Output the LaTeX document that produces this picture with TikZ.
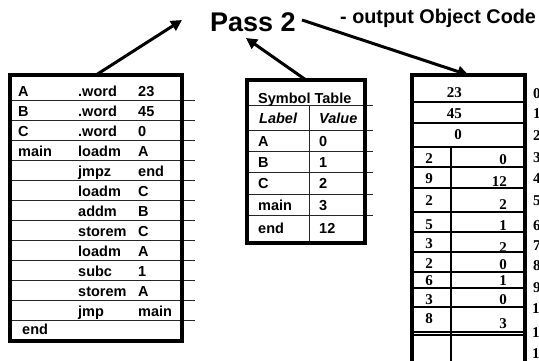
\documentclass[tikz,border=0pt]{standalone}
\usepackage{fontspec}
\setmainfont{Liberation Sans}
\newfontfamily\digitfont{Liberation Serif}
\usetikzlibrary{arrows.meta}

\begin{document}
\begin{tikzpicture}[x=1pt,y=-1pt,
  frame/.style={draw, line width=4pt, inner sep=0pt, outer sep=0pt},
  rule/.style={line width=0.8pt, black!85},
  orule/.style={line width=1.5pt},
  cell/.style={font=\fontsize{14.5}{16}\selectfont\bfseries, inner sep=0pt, anchor=base west},
  icell/.style={cell, font=\fontsize{14.5}{16}\selectfont\bfseries\itshape},
  dcell/.style={font=\fontsize{15}{17}\digitfont\bfseries, inner sep=0pt, anchor=base},
  arr/.style={line width=3pt, -{Triangle[length=11pt,width=11pt]}},
]
\useasboundingbox (0,0) rectangle (539,360);
\clip (0,0) rectangle (539,360);

% ---- titles
\node[font=\fontsize{27}{30}\selectfont\bfseries, inner sep=0pt, anchor=base] (pass) at (253,31.5) {Pass 2};
\node[font=\fontsize{19.8}{22}\selectfont\bfseries, inner sep=0pt, anchor=base west] (note) at (340,23) {- output Object Code};

% ---- source program
\foreach \y in {100,120,...,320} \draw[rule] (12,\y) -- (195,\y);
\node[frame, minimum width=172pt, minimum height=266pt] (ltab) at (96,208) {};
\foreach \t [count=\k from 0] in {A,B,C,main}
  \node[cell] (la\k) at (18,96+20*\k) {\t};
\foreach \t [count=\k from 0] in {.word,.word,.word,loadm,jmpz,loadm,addm,storem,loadm,subc,storem,jmp}
  \node[cell] (lb\k) at (78,96+20*\k) {\t};
\foreach \t [count=\k from 0] in {23,45,0,A,end,C,B,C,A,1,A,main}
  \node[cell] (lc\k) at (138,96+20*\k) {\t};
\node[cell] (lend) at (22,334) {end};

% ---- symbol table
\foreach \y in {105,130,151,172,194,215} \draw[rule] (249,\y) -- (373,\y);
\draw[rule] (309,105) -- (309,243);
\node[frame, minimum width=118pt, minimum height=163pt] (stab) at (306,161.5) {};
\node[cell] (shead) at (258,103) {Symbol Table};
\node[icell] (slab) at (259,123) {Label};
\node[icell] (sval) at (319,123) {Value};
\foreach \a/\b/\y [count=\k] in {A/0/141,B/1/162,C/2/183,main/3/205,end/12/228} {
  \node[cell] (sa\k) at (258,\y+5) {\a};
  \node[cell] (sb\k) at (319,\y+5) {\b};
}

% ---- object code
\foreach \y in {102,123,147,167,188,212,232,252,272,288,307,332,335} \draw[orule] (412,\y) -- (525,\y);
\draw[orule] (451,147) -- (451,365);
\node[frame, minimum width=113pt, minimum height=305pt] (otab) at (468.5,227.5) {};
\node[dcell, anchor=base east] (w0) at (462,97) {23};
\node[dcell, anchor=base east] (w1) at (462,118) {45};
\node[dcell, anchor=base east] (w2) at (462,139) {0};
\foreach \o/\yo/\v/\yv [count=\k] in {2/158/0/159,9/178/12/181,2/200/2/204,5/224/1/225,3/243/2/247,2/263/0/264,6/280/1/280,3/299/0/299,8/318/3/323} {
  \node[dcell] (op\k) at (429,\yo+5) {\o};
  \node[dcell, anchor=base east] (ov\k) at (507,\yv+5) {\v};
}
\foreach \n/\y in {0/93,1/113,2/135,3/157,4/178,5/200,6/225,7/245,8/265,9/287}
  \node[dcell, anchor=base west] (addr\n) at (533,\y+5) {\n};
\foreach \n/\y in {10/308,11/332,12/353}
  \node[dcell, anchor=base west] (addr\n) at (532,\y+5) {\n};

% ---- arrows
\coordinate (t1) at (182,20);
\draw[arr] (ltab.north) -- (t1);
\coordinate (t2) at (246,38);
\draw[arr] (stab.north) -- (t2);
\coordinate (s3) at (302,20);
\draw[arr] (s3) -- (otab.north);
\end{tikzpicture}
\end{document}
